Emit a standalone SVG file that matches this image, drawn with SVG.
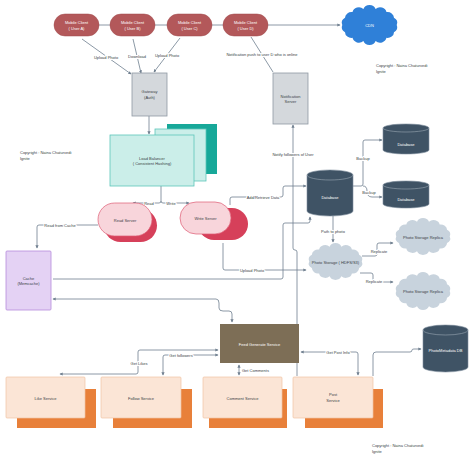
<svg xmlns="http://www.w3.org/2000/svg" xmlns:xlink="http://www.w3.org/1999/xlink" width="474" height="460" viewBox="0 0 474 460">
<style>
text{font-family:"Liberation Sans",Arial,sans-serif;font-size:4px;text-anchor:middle;fill:#3a3f45}
.w{fill:#fff}
.lbl{paint-order:stroke;stroke:#fff;stroke-width:2.2px;stroke-linejoin:round}
.l{text-anchor:start}
.c{fill:none;stroke:#6f7f8f;stroke-width:0.8}
.ae{marker-end:url(#a)}
.as{marker-start:url(#a)}
.mc{fill:#b3585a;stroke:#a04a4c;stroke-width:0.5}
.gw{fill:#d4d8dc;stroke:#8f9aa4;stroke-width:0.8}
.lbf{fill:#cbeee9;stroke:#5cc6ba;stroke-width:0.8}
.lbb{fill:#17a899}
.sf{fill:#f8d5db;stroke:#de5c74;stroke-width:0.7}
.sb{fill:#d6405a}
.db{fill:#3f5365;stroke:#7f8f9d;stroke-width:0.6}
.rim{fill:none;stroke:#9aa8b4;stroke-width:0.6}
.cl{fill:#c8d3dd}
.pf{fill:#fbe5d6;stroke:#f0c3a5;stroke-width:0.7}
.pb{fill:#e8803a}
</style>
<defs>
<marker id="a" viewBox="0 0 6 6" refX="5" refY="3" markerWidth="4" markerHeight="4" orient="auto-start-reverse"><path d="M0,0 L6,3 L0,6 z" fill="#6f7f8f"/></marker>
<path id="cloud" d="M8,36 A10,10 0 0 1 12.2,23.8 A10,10 0 0 1 23.8,14.1 A10,10 0 0 1 40.6,8.7 A10,10 0 0 1 59.4,8.7 A10,10 0 0 1 76.2,14.1 A10,10 0 0 1 87.8,23.8 A10,10 0 0 1 92,36 A10,10 0 0 1 87.8,48.2 A10,10 0 0 1 76.2,57.9 A10,10 0 0 1 59.4,63.3 A10,10 0 0 1 40.6,63.3 A10,10 0 0 1 23.8,57.9 A10,10 0 0 1 12.2,48.2 A10,10 0 0 1 8,36 Z"/>
</defs>
<rect width="474" height="460" fill="#fff"/>

<g id="connectors">
<path class="c" d="M99,25 H110 M155,25 H167 M212,25 H223"/>
<path class="c ae" d="M268,25 H340"/>
<path class="c ae" d="M82,39 L131,74"/>
<path class="c ae" d="M133,39 L141,73"/>
<path class="c ae" d="M180,38 L154,72"/>
<path class="c" d="M251,37 L273,72"/>
<path class="c ae" d="M149,116 V134"/>
<path class="c ae" d="M161,186 V201 Q161,203 159,203 H133"/>
<path class="c ae" d="M161,201 Q161,203 163,203 H189"/>
<path class="c ae" d="M98,225 H39 Q37,225 37,227 V248"/>
<path class="c ae" d="M230,205 V199 Q230,197 232,197 H281 Q283,197 283,195 V188 Q283,186 285,186 H306"/>
<path class="c ae" d="M223,243 V268 Q223,270 225,270 H306"/>
<path class="c ae" d="M53,279 H281 Q283,279 283,277 V225 Q283,223 285,223 H308 Q310,223 310,221 V217"/>
<path class="c ae" d="M353,186 H361 Q363,186 363,184 V142 Q363,140 365,140 H382"/>
<path class="c ae" d="M363,186 Q367,186 367,191 Q367,197 372,197 H382"/>
<path class="c ae" d="M333,216 V242"/>
<path class="c ae" d="M362,256 H375 Q377,256 377,254 V245 Q377,243 379,243 H393"/>
<path class="c ae" d="M360,273 H371 Q373,273 373,275 V280 Q373,282 375,282 H393"/>
<path class="c ae" d="M297,376 V252 Q297,250 295,250 Q293,250 293,248 V125"/>
<path class="c ae as" d="M53,299 H216 Q219,299 219,303 V308 Q219,311 223,311 H229 Q232,311 232,314 V322"/>
<path class="c ae as" d="M60,374 H136 Q138,374 138,372 V352 Q138,350 140,350 H218"/>
<path class="c ae as" d="M218,355 H165 Q163,355 163,357 V375"/>
<path class="c ae as" d="M239,365 V375"/>
<path class="c ae as" d="M301,352 H356 Q358,352 358,354 V375"/>
<path class="c ae" d="M373,376 V355 Q373,352 376,352 H410 Q412,352 412,350 Q412,349 414,349 H421"/>
<text class="lbl" x="106" y="58.5">Upload Photo</text>
<text class="lbl" x="137" y="58">Download</text>
<text class="lbl" x="167" y="56.5">Upload Photo</text>
<text class="lbl" x="262" y="55.5">Notification push to user D who is online</text>
<text class="lbl" x="149" y="204.5">Read</text>
<text class="lbl" x="171" y="204.5">Write</text>
<text class="lbl" x="60" y="226.5">Read from Cache</text>
<text class="lbl" x="263" y="198.5">Add/Retrieve Data</text>
<text class="lbl" x="252" y="271.5">Upload Photo</text>
<text class="lbl" x="363" y="159.5">Backup</text>
<text class="lbl" x="369" y="193.5">Backup</text>
<text class="lbl" x="333" y="232.5">Path to photo</text>
<text class="lbl" x="379" y="252.5">Replicate</text>
<text class="lbl" x="374" y="282.5">Replicate</text>
<text class="lbl" x="293" y="155.5">Notify followers of User</text>
<text class="lbl" x="139" y="364.5">Get Likes</text>
<text class="lbl" x="181" y="356.5">Get followers</text>
<text class="lbl l" x="242" y="371.5">Get Comments</text>
<text class="lbl" x="338" y="353.5">Get Post Info</text>
</g>

<g id="client-a"><rect class="mc" x="54" y="14" width="45" height="22" rx="11"/><text class="w" x="76.5" y="24">Mobile Client</text><text class="w" x="76.5" y="30">( User A)</text></g>
<g id="client-b"><rect class="mc" x="110" y="14" width="45" height="22" rx="11"/><text class="w" x="132.5" y="24">Mobile Client</text><text class="w" x="132.5" y="30">( User B)</text></g>
<g id="client-c"><rect class="mc" x="167" y="14" width="45" height="22" rx="11"/><text class="w" x="189.5" y="24">Mobile Client</text><text class="w" x="189.5" y="30">( User C)</text></g>
<g id="client-d"><rect class="mc" x="223" y="14" width="45" height="22" rx="11"/><text class="w" x="245.5" y="24">Mobile Client</text><text class="w" x="245.5" y="30">( User D)</text></g>

<g id="cdn"><use xlink:href="#cloud" href="#cloud" fill="#2f80d8" transform="translate(337.1,3.8) scale(0.648,0.588)"/><text class="w" x="369.5" y="26.5">CDN</text></g>

<g id="gateway"><rect class="gw" x="132" y="73" width="35" height="43"/><text x="149.5" y="93">Gateway</text><text x="149.5" y="99">(Auth)</text></g>

<g id="notification-server"><rect class="gw" x="273" y="73" width="35" height="51"/><text x="290.5" y="97.5">Notification</text><text x="290.5" y="103">Server</text></g>

<g id="load-balancer"><rect class="lbb" x="167" y="124" width="50" height="50"/><rect class="lbf" x="155" y="129" width="51" height="52"/><rect class="lbf" x="110" y="135" width="84" height="51"/><text x="152" y="159.5">Load Balancer</text><text x="152" y="165">( Consistent Hashing)</text></g>

<g id="read-server"><rect class="sb" x="104" y="209" width="53" height="33" rx="16.5"/><rect class="sf" x="98" y="203" width="54" height="33" rx="16.5"/><text x="125" y="221.5">Read Server</text></g>

<g id="write-server"><rect class="sb" x="198" y="208" width="50" height="32" rx="16"/><rect class="sf" x="180" y="202" width="51" height="32" rx="16"/><text x="205.5" y="219.5">Write Server</text></g>

<g id="database"><path class="db" d="M307,175 A23,5 0 0 1 353,175 V211 A23,5 0 0 1 307,211 Z"/><path class="rim" d="M307,175 A23,5 0 0 0 353,175"/><text class="w" x="330" y="199">Database</text></g>
<g id="database-backup-1"><path class="db" d="M383,128 A23,4 0 0 1 429,128 V150 A23,4 0 0 1 383,150 Z"/><path class="rim" d="M383,128 A23,4 0 0 0 429,128"/><text class="w" x="406" y="145.5">Database</text></g>
<g id="database-backup-2"><path class="db" d="M383,185 A23,4 0 0 1 429,185 V204 A23,4 0 0 1 383,204 Z"/><path class="rim" d="M383,185 A23,4 0 0 0 429,185"/><text class="w" x="406" y="200.5">Database</text></g>

<g id="photo-storage"><use xlink:href="#cloud" href="#cloud" class="cl" transform="translate(304.25,241.9) scale(0.625,0.544)"/><text x="335.5" y="263.5">Photo Storage ( HDFS/S3)</text></g>
<g id="replica-1"><use xlink:href="#cloud" href="#cloud" class="cl" transform="translate(391.2,216.9) scale(0.636,0.544)"/><text x="423" y="238.5">Photo Storage Replica</text></g>
<g id="replica-2"><use xlink:href="#cloud" href="#cloud" class="cl" transform="translate(391.2,270.9) scale(0.636,0.559)"/><text x="423" y="292.5">Photo Storage Replica</text></g>

<g id="cache"><rect x="6" y="251" width="45" height="59" rx="1" fill="#e4d2f4" stroke="#b58bdc" stroke-width="0.8"/><text x="28.5" y="279.5">Cache</text><text x="28.5" y="285">(Memcache)</text></g>

<g id="feed-generate-service"><rect x="220" y="324" width="79" height="39" fill="#7d6e56"/><text class="w" x="259.5" y="345.5">Feed Generate Service</text></g>

<g id="photometadata-db"><path class="db" d="M423,330 A22.5,5 0 0 1 468,330 V367 A22.5,5 0 0 1 423,367 Z"/><path class="rim" d="M423,330 A22.5,5 0 0 0 468,330"/><text class="w" x="445.5" y="351.5">PhotoMetadata DB</text></g>

<g id="like-service"><rect class="pb" x="17" y="389" width="79" height="39"/><rect class="pf" x="6" y="377" width="79" height="41" rx="1"/><text x="45.5" y="399.5">Like Service</text></g>
<g id="follow-service"><rect class="pb" x="113" y="389" width="79" height="39"/><rect class="pf" x="101" y="377" width="80" height="41" rx="1"/><text x="141" y="399.5">Follow Service</text></g>
<g id="comment-service"><rect class="pb" x="209" y="389" width="78" height="39"/><rect class="pf" x="203" y="377" width="79" height="41" rx="1"/><text x="242.5" y="399.5">Comment Service</text></g>
<g id="post-service"><rect class="pb" x="305" y="389" width="78" height="39"/><rect class="pf" x="293" y="377" width="80" height="41" rx="1"/><text x="333" y="395.5">Post</text><text x="333" y="401.5">Service</text></g>

<g id="copyright">
<text class="l" x="376" y="66.5">Copyright : Naina Chaturvedi</text><text class="l" x="376" y="72.5">Ignite</text>
<text class="l" x="20" y="154">Copyright : Naina Chaturvedi</text><text class="l" x="20" y="159.5">Ignite</text>
<text class="l" x="372" y="447">Copyright : Naina Chaturvedi</text><text class="l" x="372" y="453">Ignite</text>
</g>
</svg>
